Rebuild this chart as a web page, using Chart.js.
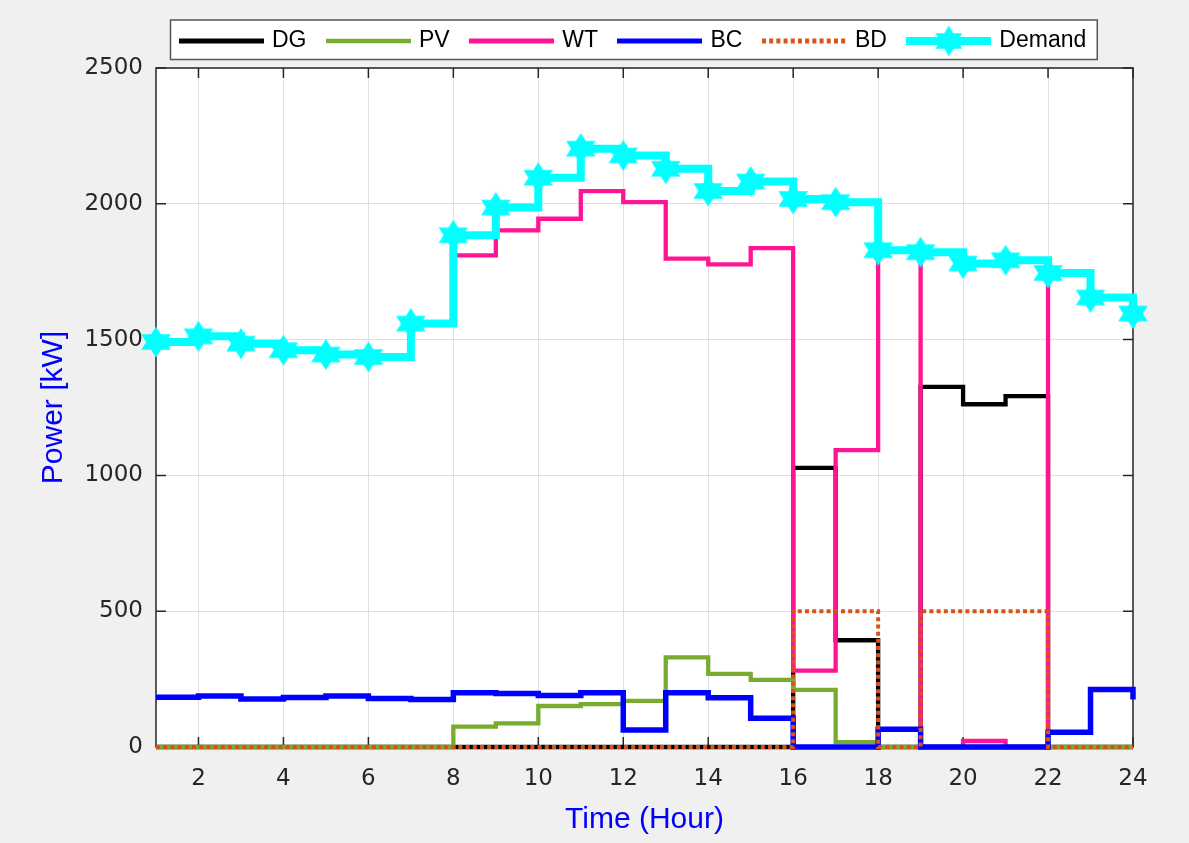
<!DOCTYPE html>
<html>
<head>
<meta charset="utf-8">
<script src="https://cdn.jsdelivr.net/npm/chart.js@4.4.0/dist/chart.umd.min.js"></script>
<style>
html,body{margin:0;padding:0;background:#f0f0f0;}
canvas{display:block;}
</style>
</head>
<body>
<canvas id="c" width="1189" height="843"></canvas>
<script>
// ---------- data ----------
const hours = [1,2,3,4,5,6,7,8,9,10,11,12,13,14,15,16,17,18,19,20,21,22,23,24];
const xTickValues = [2,4,6,8,10,12,14,16,18,20,22,24];
const yTickValues = [0,500,1000,1500,2000,2500];
const seriesNames = ['DG','PV','WT','BC','BD','Demand'];
const dgValues = [0,0,0,0,0,0,0,0,0,0,0,0,0,0,0,1028,393,0,1326,1262,1292,0,0,0];
const pvValues = [0,0,0,0,0,0,0,75,87,151,158,170,330,269,247,210,18,0,0,0,0,0,0,0];
const wtValues = [1490,1510,1483,1459,1443,1434,1557,1810,1902,1945,2047,2006,1798,1777,1837,281,1093,1826,0,22,0,1742,1652,1593];
const bcValues = [183,188,177,182,188,179,175,200,197,190,200,63,200,181,106,0,0,65,0,0,0,54,212,175];
const bdValues = [0,0,0,0,0,0,0,0,0,0,0,0,0,0,0,500,500,0,500,500,500,0,0,0];
const demandValues = [1491,1512,1485,1461,1445,1436,1559,1884,1986,2096,2203,2178,2129,2047,2082,2018,2006,1829,1822,1780,1792,1745,1655,1596];

// ---------- styles ----------
const colors = ['#000000','#77ac30','#ff1493','#0000ff','#d95319','#00ffff'];
const widths = [4.3,4.3,4.3,5.5,4,8];
const bdDash = [4,3.2];

function hexagram(ctx, cx, cy, R, sx) {
  const r = R / Math.sqrt(3);
  ctx.beginPath();
  for (let k = 0; k < 12; k++) {
    const ang = -Math.PI/2 + k*Math.PI/6;
    const rad = (k % 2 === 0) ? R : r;
    const px = cx + Math.cos(ang)*rad*sx, py = cy + Math.sin(ang)*rad;
    if (k === 0) ctx.moveTo(px, py); else ctx.lineTo(px, py);
  }
  ctx.closePath();
  ctx.fill();
}
function makeStar() {
  const c = document.createElement('canvas'); c.width = 36; c.height = 34;
  const g = c.getContext('2d'); g.fillStyle = colors[5];
  hexagram(g, 18, 17, 15.5, 1.1);
  return c;
}
const starImg = makeStar();

function makeLegendIcon(i) {
  const c = document.createElement('canvas');
  c.width = 85; c.height = (i === 5) ? 34 : 10;
  const g = c.getContext('2d');
  const cy = c.height/2;
  g.strokeStyle = colors[i]; g.lineWidth = (i === 5) ? 8 : (i === 1 ? 4.3 : 5);
  if (i === 4) g.setLineDash(bdDash);
  g.beginPath(); g.moveTo(0, cy); g.lineTo(85, cy); g.stroke();
  if (i === 5) { g.fillStyle = colors[5]; hexagram(g, 42.5, 17, 15.5, 1.0); }
  return c;
}
const legendIcons = seriesNames.map((n,i) => makeLegendIcon(i));

const seriesValues = [dgValues, pvValues, wtValues, bcValues, bdValues, demandValues];
const drawOrder = [5, 3, 4, 2, 1, 0]; // lower = drawn on top

const datasets = seriesNames.map((name, i) => ({
  label: name,
  data: hours.map((h, j) => ({x: h, y: seriesValues[i][j]})),
  borderColor: colors[i],
  backgroundColor: colors[i],
  borderWidth: widths[i],
  borderDash: i === 4 ? bdDash : [],
  borderCapStyle: 'butt',
  borderJoinStyle: 'miter',
  stepped: 'before',
  fill: false,
  order: drawOrder[i],
  clip: false,
  pointRadius: i === 5 ? 15 : 0,
  pointHoverRadius: i === 5 ? 15 : 0,
  pointStyle: i === 5 ? starImg : 'circle',
  pointBorderWidth: 0
}));

const framePlugin = {
  id: 'frame',
  afterUpdate(chart) {
    const lg = chart.legend; const hb = lg && lg.legendHitBoxes;
    if (!hb || !hb.length) return;
    const dx = 182.5 - hb[0].left;
    lg.left += dx; lg.right += dx;
    hb.forEach(h => { h.left += dx; });
  },
  beforeDraw(chart) {
    const {ctx, chartArea: a} = chart;
    ctx.save();
    ctx.fillStyle = '#f0f0f0'; ctx.fillRect(0, 0, chart.width, chart.height);
    ctx.fillStyle = '#ffffff'; ctx.fillRect(a.left, a.top, a.right - a.left, a.bottom - a.top);
    const hb = chart.legend.legendHitBoxes;
    if (hb && hb.length) {
      const last = hb[hb.length - 1];
      const l = hb[0].left - 12, r = last.left + last.width + 11;
      const t = hb[0].top - 9.5, b = hb[0].top + hb[0].height + 7;
      ctx.fillStyle = '#ffffff'; ctx.fillRect(l, t, r - l, b - t);
      ctx.strokeStyle = '#555555'; ctx.lineWidth = 1.5; ctx.strokeRect(l, t, r - l, b - t);
    }
    ctx.restore();
  },
  beforeDatasetsDraw(chart) {
    const {ctx, chartArea: a, scales} = chart;
    ctx.save();
    ctx.strokeStyle = '#262626'; ctx.lineWidth = 1.5;
    ctx.strokeRect(a.left, a.top, a.right - a.left, a.bottom - a.top);
    ctx.beginPath();
    yTickValues.forEach(v => {
      const y = scales.y.getPixelForValue(v);
      ctx.moveTo(a.left, y); ctx.lineTo(a.left + 10, y);
      ctx.moveTo(a.right, y); ctx.lineTo(a.right - 10, y);
    });
    xTickValues.forEach(v => {
      const x = scales.x.getPixelForValue(v);
      ctx.moveTo(x, a.bottom); ctx.lineTo(x, a.bottom - 10);
      ctx.moveTo(x, a.top); ctx.lineTo(x, a.top + 10);
    });
    ctx.stroke();
    ctx.restore();
  }
};

const tickFont = {family: 'DejaVu Sans', size: 23};
const labelFamily = '"Liberation Sans", Arial, sans-serif';

new Chart(document.getElementById('c'), {
  type: 'line',
  data: {datasets},
  plugins: [framePlugin],
  options: {
    responsive: false,
    animation: false,
    events: [],
    layout: {padding: {top: 6.5, right: 56, bottom: 0, left: 0}},
    scales: {
      x: {
        type: 'linear', min: 1, max: 24,
        afterBuildTicks: s => { s.ticks = xTickValues.map(v => ({value: v})); },
        afterFit: s => { s.height = 96; },
        ticks: {color: '#262626', font: tickFont, padding: 18, maxRotation: 0, autoSkip: false,
                callback: v => String(v)},
        grid: {color: '#dfdfdf', lineWidth: 1, drawTicks: false},
        border: {display: false},
        title: {display: true, text: 'Time (Hour)', color: '#0000ff',
                font: {family: labelFamily, size: 30}, padding: {top: 0, bottom: 5}}
      },
      y: {
        type: 'linear', min: 0, max: 2500,
        afterBuildTicks: s => { s.ticks = yTickValues.map(v => ({value: v})); },
        afterFit: s => { s.width = 156; },
        ticks: {color: '#262626', font: tickFont, padding: 13, callback: v => String(v)},
        grid: {color: '#dfdfdf', lineWidth: 1, drawTicks: false},
        border: {display: false},
        title: {display: true, text: 'Power [kW]', color: '#0000ff',
                font: {family: labelFamily, size: 30}, padding: {top: 36, bottom: 0}}
      }
    },
    plugins: {
      tooltip: {enabled: false},
      title: {display: true, text: ' ', weight: 500, padding: 0,
              font: {size: 5, lineHeight: '5.5px'}},
      legend: {
        display: true, position: 'top', align: 'center',
        labels: {
          usePointStyle: true, pointStyleWidth: 78, padding: 23,
          color: '#000000', font: {family: labelFamily, size: 23},
          sort: (a, b) => a.datasetIndex - b.datasetIndex,
          generateLabels: chart => {
            const items = Chart.defaults.plugins.legend.labels.generateLabels(chart);
            items.forEach(it => { it.pointStyle = legendIcons[it.datasetIndex]; it.fontColor = '#000000'; it.lineWidth = 0; });
            return items;
          }
        }
      }
    }
  }
});
</script>
</body>
</html>
